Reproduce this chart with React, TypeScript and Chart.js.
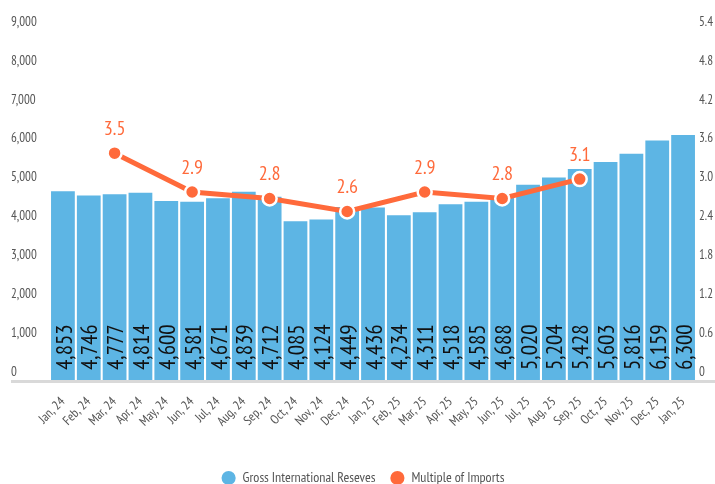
import React, { useEffect, useRef } from "react";
import { Chart, registerables } from "chart.js";

Chart.register(...registerables);

const months = [
  "Jan, 24", "Feb, 24", "Mar, 24", "Apr, 24", "May, 24", "Jun, 24", "Jul, 24", "Aug, 24",
  "Sep, 24", "Oct, 24", "Nov, 24", "Dec, 24", "Jan, 25", "Feb, 25", "Mar, 25", "Apr, 25",
  "May, 25", "Jun, 25", "Jul, 25", "Aug, 25", "Sep, 25", "Oct, 25", "Nov, 25", "Dec, 25", "Jan, 25",
];

const reserves = [
  4853, 4746, 4777, 4814, 4600, 4581, 4671, 4839, 4712, 4085, 4124, 4449, 4436,
  4234, 4311, 4518, 4585, 4688, 5020, 5204, 5428, 5603, 5816, 6159, 6300,
];

const importMultiple: (number | null)[] = [
  null, null, 3.5, null, null, 2.9, null, null, 2.8, null, null, 2.6, null,
  null, 2.9, null, null, 2.8, null, null, 3.1, null, null, null, null,
];

const seriesNames = ["Gross International Reseves", "Multiple of Imports"];

const FONT = "'PT Sans Narrow', 'Roboto Condensed', sans-serif";
const BLUE = "#5DB5E4";
const ORANGE = "#FF6A3B";
const GREY_TEXT = "#555555";

const fmt = (n: number) => String(Math.round(n)).replace(/\B(?=(\d{3})+(?!\d))/g, ",");

const labelPlugin = {
  id: "customLabels",
  afterDatasetsDraw(chart: any) {
    const ctx = chart.ctx;
    const base = chart.scales.y.getPixelForValue(0);
    ctx.save();
    ctx.font = `23px ${FONT}`;
    ctx.fillStyle = "#111";
    ctx.textAlign = "left";
    ctx.textBaseline = "middle";
    chart.getDatasetMeta(0).data.forEach((el: any, i: number) => {
      ctx.save();
      ctx.translate(el.x + 2, base - 10);
      ctx.rotate(-Math.PI / 2);
      ctx.fillText(fmt(reserves[i]), 0, 0);
      ctx.restore();
    });
    ctx.font = `20px ${FONT}`;
    ctx.fillStyle = ORANGE;
    ctx.textAlign = "center";
    ctx.textBaseline = "bottom";
    chart.getDatasetMeta(1).data.forEach((pt: any, i: number) => {
      const v = importMultiple[i];
      if (v == null) return;
      ctx.fillText(v.toFixed(1), pt.x, pt.y - 14);
    });
    ctx.restore();
  },
  afterDraw(chart: any) {
    const ctx = chart.ctx;
    const base = chart.scales.y.getPixelForValue(0);
    ctx.save();
    ctx.fillStyle = "#d9d9d9";
    ctx.fillRect(11, base, chart.width - 11, 3);
    ctx.restore();
  },
};

export default function App() {
  const ref = useRef<HTMLCanvasElement>(null);

  useEffect(() => {
    if (!ref.current) return;
    const chart = new Chart(ref.current, {
      type: "bar",
      data: {
        labels: months,
        datasets: [
          {
            type: "bar",
            label: seriesNames[0],
            data: reserves,
            backgroundColor: BLUE,
            yAxisID: "y",
            barPercentage: 0.92,
            categoryPercentage: 1,
            order: 2,
          },
          {
            type: "line",
            label: seriesNames[1],
            data: importMultiple,
            borderColor: ORANGE,
            backgroundColor: ORANGE,
            borderWidth: 5,
            pointRadius: 7,
            pointBackgroundColor: ORANGE,
            pointBorderColor: "#ffffff",
            pointBorderWidth: 2.5,
            spanGaps: true,
            yAxisID: "y1",
            order: 1,
          } as any,
        ],
      },
      options: {
        animation: false,
        responsive: false,
        layout: { padding: { left: 11, top: 30, right: 0, bottom: 0 } },
        plugins: {
          tooltip: { enabled: false },
          legend: {
            position: "bottom",
            labels: {
              usePointStyle: true,
              boxWidth: 14,
              boxHeight: 10,
              color: GREY_TEXT,
              font: { family: FONT, size: 14 },
              padding: 15,
              generateLabels: () => [
                { text: seriesNames[0], fillStyle: BLUE, strokeStyle: BLUE, lineWidth: 0, pointStyle: "circle", datasetIndex: 0, fontColor: GREY_TEXT },
                { text: seriesNames[1], fillStyle: ORANGE, strokeStyle: ORANGE, lineWidth: 0, pointStyle: "circle", datasetIndex: 1, fontColor: GREY_TEXT },
              ],
            },
          },
        },
        scales: {
          x: {
            grid: { display: false, drawTicks: false },
            border: { display: false },
            ticks: {
              color: GREY_TEXT,
              font: { family: FONT, size: 13 },
              maxRotation: 45,
              minRotation: 45,
              autoSkip: false,
              padding: 14,
            },
            afterFit: (s: any) => { s.height = 76; },
          },
          y: {
            position: "left",
            min: 0,
            max: 9000,
            grid: { display: false, drawTicks: false },
            border: { display: false },
            ticks: {
              stepSize: 1000,
              color: GREY_TEXT,
              font: { family: FONT, size: 13 },
              labelOffset: -8,
              crossAlign: "far",
              callback: (v: any) => fmt(Number(v)),
            },
            afterFit: (s: any) => { s.width = 39; },
          },
          y1: {
            position: "right",
            min: 0,
            max: 5.4,
            grid: { display: false, drawTicks: false },
            border: { display: false },
            ticks: {
              stepSize: 0.6,
              color: GREY_TEXT,
              font: { family: FONT, size: 13 },
              labelOffset: -8,
              padding: 3,
              callback: (v: any) => (Math.abs(Number(v)) < 1e-9 ? "0" : Number(v).toFixed(1)),
            },
            afterFit: (s: any) => { s.width = 19; },
          },
        },
      } as any,
      plugins: [labelPlugin],
    });
    return () => chart.destroy();
  }, []);

  return (
    <div style={{ position: "fixed", left: 0, top: 0, width: 715, height: 484, overflow: "hidden", background: "#fff" }}>
      <canvas ref={ref} width={715} height={495} style={{ display: "block", width: 715, height: 495 }} />
    </div>
  );
}
